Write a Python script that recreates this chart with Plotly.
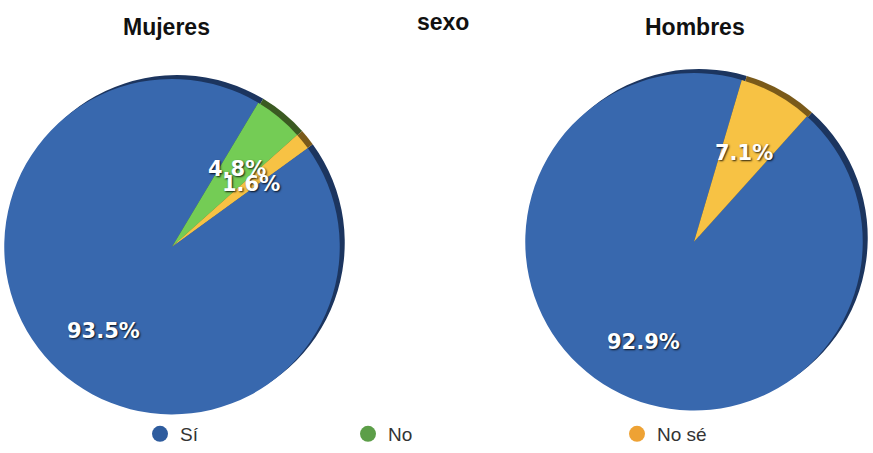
import math
import plotly.graph_objects as go

W, H = 873, 453

# Response categories and their shares (%) per group
categories = ["Sí", "No", "No sé"]
mujeres = [93.5, 4.8, 1.6]
hombres = [92.9, 0.0, 7.1]
group_titles = ["Mujeres", "Hombres"]
chart_title = "sexo"

colors = ["#3868ae", "#74cc55", "#f7c244"]
rim_colors = ["#1c355f", "#3b5a22", "#7a5a1a"]
legend_colors = ["#2e5c9e", "#5c9e48", "#eea234"]

# Pie geometry in pixels: centre x, centre y, radius, start angle (deg clockwise from top)
pies = [
    dict(values=mujeres, cx=172, cy=250, r=170, rot=54, title_x=166),
    dict(values=hombres, cx=694, cy=245, r=171, rot=42, title_x=695),
]

TITLE_FONT = dict(family="Liberation Sans", size=23, color="#111")
LABEL_FONT = dict(family="DejaVu Sans", size=21, color="white",
                  shadow="1px 1px 2px rgba(0,0,0,0.85)")


def px_dom(cx, cy, r, dx=0, dy=0):
    x0 = max(0.0, (cx - r + dx) / W)
    x1 = min(1.0, (cx + r + dx) / W)
    y0 = max(0.0, 1 - (cy + r + dy) / H)
    y1 = min(1.0, 1 - (cy - r + dy) / H)
    return dict(x=[x0, x1], y=[y0, y1])


fig = go.Figure()
annotations = []

for p, title in zip(pies, group_titles):
    # darker copy shifted up-right gives the rim of the disc
    fig.add_trace(go.Pie(
        labels=categories, values=p["values"], sort=False, direction="clockwise",
        rotation=p["rot"], marker=dict(colors=rim_colors, line=dict(width=0)),
        textinfo="none", hoverinfo="skip", showlegend=False,
        domain=px_dom(p["cx"], p["cy"], p["r"], dx=5, dy=-4),
    ))
    fig.add_trace(go.Pie(
        labels=categories, values=p["values"], sort=False, direction="clockwise",
        rotation=p["rot"], marker=dict(colors=colors, line=dict(width=0)),
        textinfo="none", showlegend=False,
        domain=px_dom(p["cx"], p["cy"], p["r"]),
    ))
    # percentage labels at each slice's mid-angle (lower half stretched for the tilt)
    total = sum(p["values"])
    start = p["rot"]
    for v in p["values"]:
        span = 360 * v / total
        if v > 0:
            mid = math.radians(start + span / 2)
            frac = 0.6
            dx = frac * p["r"] * math.sin(mid)
            dy = -frac * p["r"] * math.cos(mid)
            if dy > 0:
                dy *= 1.14
            x = p["cx"] + dx
            y = p["cy"] + dy
            annotations.append(dict(
                x=x / W, y=1 - y / H, xref="paper", yref="paper", showarrow=False,
                xanchor="center", yanchor="middle",
                text=f"<b>{v:.1f}%</b>", font=LABEL_FONT,
            ))
        start += span
    annotations.append(dict(
        x=p["title_x"] / W, y=1 - 27 / H, xref="paper", yref="paper", showarrow=False,
        xanchor="center", yanchor="middle",
        text=f"<b>{title}</b>", font=TITLE_FONT,
    ))

annotations.append(dict(
    x=443 / W, y=1 - 22 / H, xref="paper", yref="paper", showarrow=False,
    xanchor="center", yanchor="middle",
    text=f"<b>{chart_title}</b>", font=TITLE_FONT,
))

# legend entries, one legend box per category so each sits at its own spot
legend_x = [140, 348, 617]
legend_names = ["legend", "legend2", "legend3"]
for name, col, lg in zip(categories, legend_colors, legend_names):
    fig.add_trace(go.Scatter(
        x=[None], y=[None], mode="markers", name=name, legend=lg,
        marker=dict(size=19, color=col), showlegend=True,
    ))

legend_common = dict(
    orientation="h", yanchor="middle", xanchor="left", y=1 - 440 / H,
    font=dict(family="Liberation Sans", size=19, color="#333"),
    bgcolor="rgba(0,0,0,0)", borderwidth=0, itemsizing="trace",
)

fig.update_layout(
    width=W, height=H,
    margin=dict(l=0, r=0, t=0, b=0),
    paper_bgcolor="white", plot_bgcolor="white",
    xaxis=dict(visible=False), yaxis=dict(visible=False),
    annotations=annotations,
    legend=dict(x=legend_x[0] / W, **legend_common),
    legend2=dict(x=legend_x[1] / W, **legend_common),
    legend3=dict(x=legend_x[2] / W, **legend_common),
)

fig.write_html("out.html")
